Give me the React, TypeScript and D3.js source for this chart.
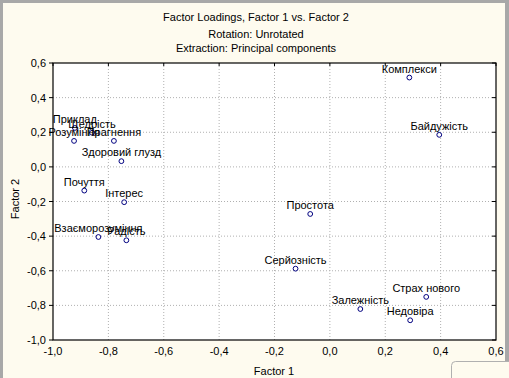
import React from "react";
import * as d3 from "d3";

const labels = [
  "Приклад", "Щедрість", "Розуміння", "Прагнення", "Здоровий глузд",
  "Почуття", "Інтерес", "Взаєморозуміння", "Радість",
  "Комплекси", "Байдужість", "Простота", "Серйозність",
  "Залежність", "Страх нового", "Недовіра",
];
const factor1 = [
  -0.921, -0.859, -0.924, -0.780, -0.753,
  -0.887, -0.743, -0.836, -0.735,
  0.287, 0.395, -0.071, -0.124,
  0.110, 0.348, 0.290,
];
const factor2 = [
  0.225, 0.197, 0.150, 0.150, 0.033,
  -0.137, -0.204, -0.405, -0.424,
  0.516, 0.185, -0.272, -0.588,
  -0.821, -0.751, -0.886,
];
const xTicks = [-1.0, -0.8, -0.6, -0.4, -0.2, 0.0, 0.2, 0.4, 0.6];
const yTicks = [-1.0, -0.8, -0.6, -0.4, -0.2, 0.0, 0.2, 0.4, 0.6];
const titleLines = [
  "Factor Loadings, Factor 1 vs. Factor 2",
  "Rotation: Unrotated",
  "Extraction: Principal components",
];

const W = 509, H = 378;
const L = 53, R = 496, T = 63, B = 340;
const fmt = (v: number) => d3.format(".1f")(v).replace(".", ",").replace("−", "-");
const FONT = "'Liberation Sans', Arial, sans-serif";

export default function App() {
  const x = d3.scaleLinear().domain([-1, 0.6]).range([L, R]);
  const y = d3.scaleLinear().domain([-1, 0.6]).range([B, T]);
  return (
    <div style={{ position: "fixed", left: 0, top: 0 }}>
      <svg width={W} height={H} style={{ display: "block", fontFamily: FONT }}>
        <rect x={0} y={0} width={W} height={H} fill="#a8a8a8" />
        <rect x={3} y={3} width={W - 7} height={H - 3} fill="#fefbef" />
        <rect x={451.5} y={361.5} width={80} height={30} rx={4} fill="#fefbef" stroke="#b0b0b0" />
        {titleLines.map((t, i) => (
          <text key={i} x={256} y={[20.5, 38, 52][i]} textAnchor="middle" fontSize={11} fill="#000">
            {t}
          </text>
        ))}
        <rect x={L} y={T} width={R - L} height={B - T} fill="#fff" />
        {xTicks.slice(1, -1).map((v) => (
          <line key={"gx" + v} x1={x(v)} x2={x(v)} y1={T} y2={B} stroke="#b0b0b0" strokeDasharray="1,2" />
        ))}
        {yTicks.slice(1, -1).map((v) => (
          <line key={"gy" + v} x1={L} x2={R} y1={y(v)} y2={y(v)} stroke="#b0b0b0" strokeDasharray="1,2" />
        ))}
        {xTicks.map((v) => (
          <g key={"tx" + v}>
            <line x1={x(v)} x2={x(v)} y1={T} y2={T + 3} stroke="#000" />
            <text x={x(v)} y={355} textAnchor="middle" fontSize={11} fill="#000">{fmt(v)}</text>
          </g>
        ))}
        {yTicks.map((v) => (
          <g key={"ty" + v}>
            <line x1={L - 4} x2={L} y1={y(v)} y2={y(v)} stroke="#000" />
            <line x1={R - 4} x2={R} y1={y(v)} y2={y(v)} stroke="#000" />
            <text x={46} y={y(v) + 4} textAnchor="end" fontSize={11} fill="#000">{fmt(v)}</text>
          </g>
        ))}
        <rect x={L} y={T} width={R - L} height={B - T} fill="none" stroke="#000" strokeWidth={1.2} />
        <text x={274} y={375} textAnchor="middle" fontSize={11} fill="#000">Factor 1</text>
        <text transform={`translate(19,199) rotate(-90)`} textAnchor="middle" fontSize={11} fill="#000">Factor 2</text>
        {labels.map((lab, i) => (
          <g key={lab}>
            <circle cx={x(factor1[i])} cy={y(factor2[i])} r={2.4} fill="#fff" stroke="#00007f" strokeWidth={1} />
          </g>
        ))}
        {labels.map((lab, i) => (
          <text key={"l" + lab} x={x(factor1[i])} y={y(factor2[i]) - 5} textAnchor="middle" fontSize={11} fill="#000">
            {lab}
          </text>
        ))}
      </svg>
    </div>
  );
}
